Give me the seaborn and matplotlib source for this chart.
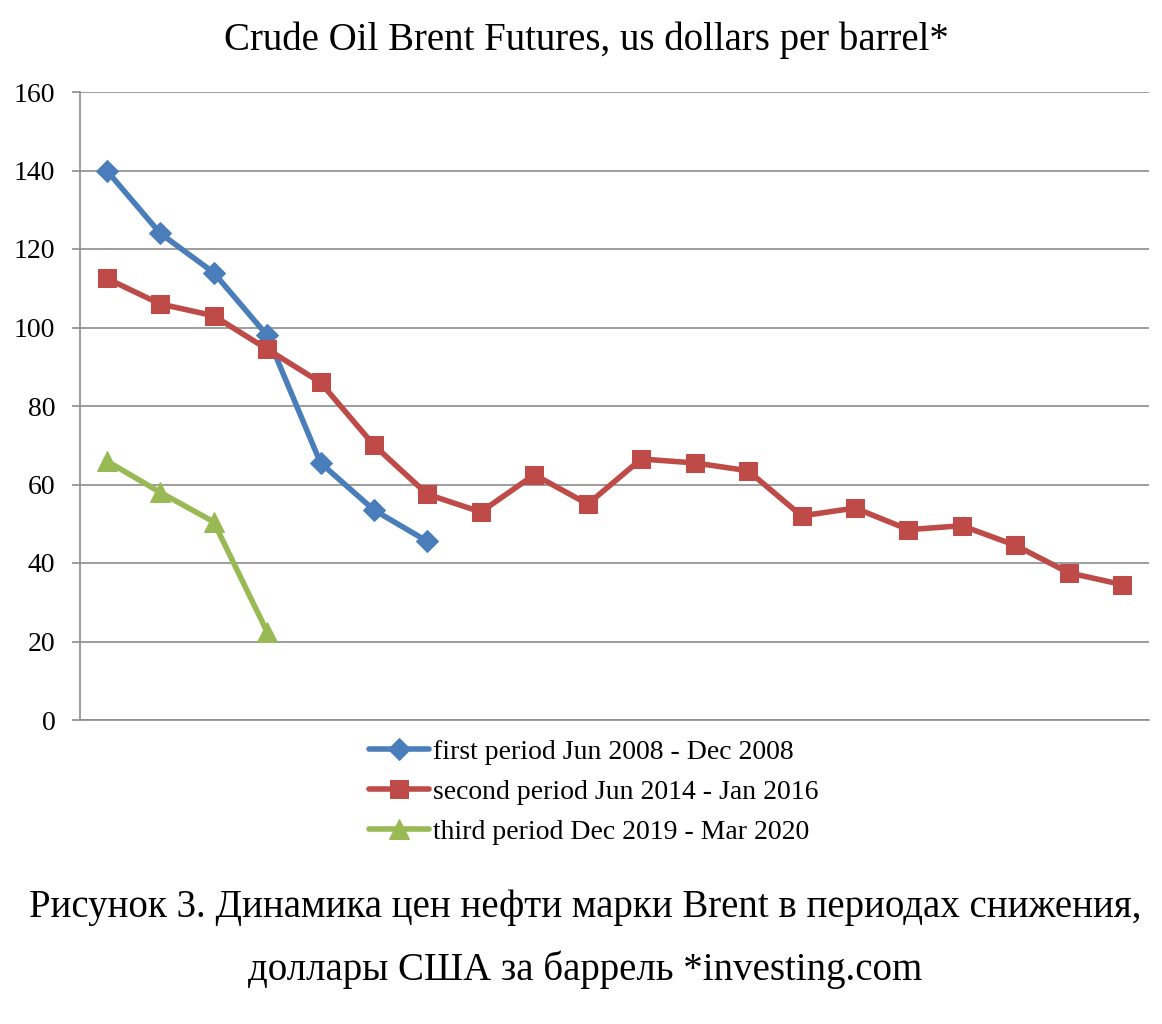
import matplotlib
matplotlib.use("Agg")
import matplotlib.pyplot as plt
import seaborn as sns
import pandas as pd

title = "Crude Oil Brent Futures, us dollars per barrel*"
caption1 = "Рисунок 3. Динамика цен нефти марки Brent в периодах снижения,"
caption2 = "доллары США за баррель *investing.com"

series_names = ["first period Jun 2008 - Dec 2008",
                "second period Jun 2014 - Jan 2016",
                "third period Dec 2019 - Mar 2020"]
first_vals = [140, 124, 114, 98, 65.5, 53.5, 45.5]
second_vals = [112.5, 106, 103, 94.5, 86, 70, 57.5, 53, 62.5, 55, 66.5, 65.5,
               63.5, 52, 54, 48.5, 49.5, 44.5, 37.5, 34.5]
third_vals = [66, 58, 50.5, 22.5]
y_ticks = [0, 20, 40, 60, 80, 100, 120, 140, 160]

colors = ["#4A7EBB", "#BE4B48", "#98B954"]
markers = ["D", "s", "^"]
msizes = [11.5, 13, 14]

rows = []
for name, vals in zip(series_names, [first_vals, second_vals, third_vals]):
    for i, v in enumerate(vals):
        rows.append({"idx": i, "value": v, "series": name})
df = pd.DataFrame(rows)

sns.set_style("white")
plt.rcParams['font.family'] = ['Liberation Serif', 'DejaVu Serif']
plt.rcParams['text.color'] = 'black'
plt.rcParams['ytick.color'] = 'black'

fig = plt.figure(figsize=(11.62, 10.24), dpi=100)
ax = fig.add_axes([80/1162, 1-720/1024, (1149-80)/1162, (720-92)/1024])

for name, c, m, ms in zip(series_names, colors, markers, msizes):
    sub = df[df["series"] == name]
    sns.lineplot(data=sub, x="idx", y="value", ax=ax, color=c, marker=m,
                 markersize=ms, markeredgecolor=c, linewidth=4, label=name)

ax.set_xlim(-0.5, 19.5)
ax.set_ylim(0, 160)
ax.set_yticks(y_ticks)
ax.set_yticklabels([str(t) for t in y_ticks], fontsize=20, color="black")
ax.set_xticks([])
ax.set_xlabel("")
ax.set_ylabel("")
ax.yaxis.grid(True, color="#8c8c8c", linewidth=1.2)
ax.set_axisbelow(True)
for s in ["top", "right"]:
    ax.spines[s].set_visible(False)
for s in ["left", "bottom"]:
    ax.spines[s].set_color("#8c8c8c")
    ax.spines[s].set_linewidth(1.2)
ax.tick_params(axis="y", which="both", left=True, length=5.8, width=1.2,
               color="#8c8c8c", pad=12, labelcolor="black")

leg = ax.legend(loc="upper center", bbox_to_anchor=(0.481, 0.009), frameon=False,
                fontsize=20, handlelength=2.15, labelspacing=0.52, handletextpad=0.15)
for t in leg.get_texts():
    t.set_color("black")

fig.text(0.505, 1-40/1024, title, ha="center", va="center", fontsize=28, color="black")
fig.text(0.504, 1-907/1024, caption1, ha="center", va="center", fontsize=28, color="black")
fig.text(0.504, 1-970/1024, caption2, ha="center", va="center", fontsize=28, color="black")

fig.savefig("out.png", dpi=100)
